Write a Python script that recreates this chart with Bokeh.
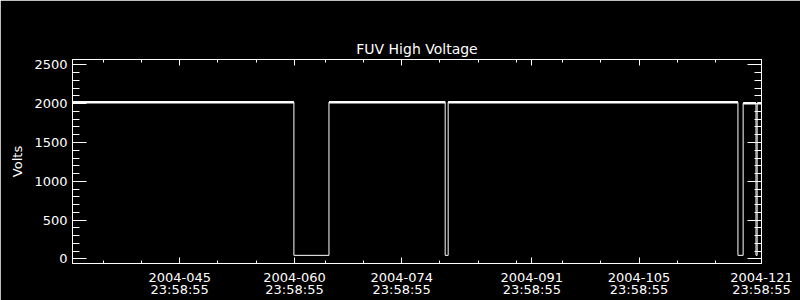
from bokeh.plotting import figure
from bokeh.models import Range1d, FixedTicker, LinearAxis, Title
from bokeh.embed import file_html
from bokeh.resources import INLINE

# ---- data (day of year 2004, fractional) ----
hv_time = [31.999, 60.92, 65.50, 80.68, 81.07, 118.92, 119.60, 121.28, 121.43, 121.999]
hv_volts = [2020, 45, 2020, 45, 2020, 45, 2005, 45, 2005, 2005]

label_days = [45, 60, 74, 91, 105, 121]
label_clock = "23:58:55"
minor_days = [36, 41, 51, 56, 65, 70, 80, 85, 90, 96, 101, 111, 116]
y_major = [0, 500, 1000, 1500, 2000, 2500]
y_minor = list(range(0, 2600, 100))

frac = (23 * 3600 + 58 * 60 + 55) / 86400.0
x_major = [d + frac for d in label_days]
x_labels = {x: "2004-%03d\n%s" % (d, label_clock) for x, d in zip(x_major, label_days)}
x_blank = {x: "" for x in x_major}
y_blank = {y: "" for y in y_major}

FONT = "DejaVu Sans"
W = "white"

p = figure(width=800, height=300, output_backend="svg", toolbar_location=None,
           x_range=Range1d(31 + frac, 121 + frac), y_range=Range1d(-60, 2570),
           x_axis_type=None, y_axis_type=None,
           min_border_left=72, min_border_right=39, min_border_top=59, min_border_bottom=37)
p.background_fill_color = "black"
p.border_fill_color = "black"
p.outline_line_color = W
p.xgrid.visible = False
p.ygrid.visible = False

xt = FixedTicker(ticks=x_major, minor_ticks=minor_days)
yt = FixedTicker(ticks=y_major, minor_ticks=y_minor)


def style(ax, tin, tmin):
    ax.axis_line_color = W
    ax.major_tick_line_color = W
    ax.minor_tick_line_color = W
    ax.major_tick_in = tin
    ax.major_tick_out = 0
    ax.minor_tick_in = tmin
    ax.minor_tick_out = 0
    ax.major_label_text_color = W
    ax.major_label_text_font = FONT
    ax.major_label_text_font_size = "13px"
    ax.axis_label_text_color = W
    ax.axis_label_text_font = FONT
    ax.axis_label_text_font_size = "13px"
    ax.axis_label_text_font_style = "normal"


bottom = LinearAxis(ticker=xt, major_label_overrides=x_labels)
style(bottom, 6, 3)
bottom.major_label_standoff = 6
bottom.major_label_text_line_height = 0.8
p.add_layout(bottom, "below")

top = LinearAxis(ticker=xt, major_label_overrides=x_blank)
style(top, 6, 3)
top.major_label_standoff = 0
p.add_layout(top, "above")

left = LinearAxis(ticker=yt, axis_label="Volts")
style(left, 14, 7)
left.major_label_standoff = 5
left.axis_label_standoff = 6
p.add_layout(left, "left")

right = LinearAxis(ticker=yt, major_label_overrides=y_blank)
style(right, 14, 7)
right.major_label_standoff = 0
p.add_layout(right, "right")

p.add_layout(Title(text="FUV High Voltage", align="center", text_color=W,
                   text_font=FONT, text_font_size="14px", text_font_style="normal",
                   standoff=6), "above")

# main trace
p.step(hv_time, hv_volts, mode="after", line_color=W, line_width=1)

# the high-voltage plateaus read as a thicker band in the original
hi_x0 = [hv_time[i] for i in range(len(hv_volts) - 1) if hv_volts[i] > 1000]
hi_x1 = [hv_time[i + 1] for i in range(len(hv_volts) - 1) if hv_volts[i] > 1000]
hi_y = [hv_volts[i] for i in range(len(hv_volts) - 1) if hv_volts[i] > 1000]
p.segment(x0=hi_x0, x1=hi_x1, y0=hi_y, y1=hi_y, line_color=W, line_width=2.5)

open("out.html", "w").write(file_html(p, INLINE))
